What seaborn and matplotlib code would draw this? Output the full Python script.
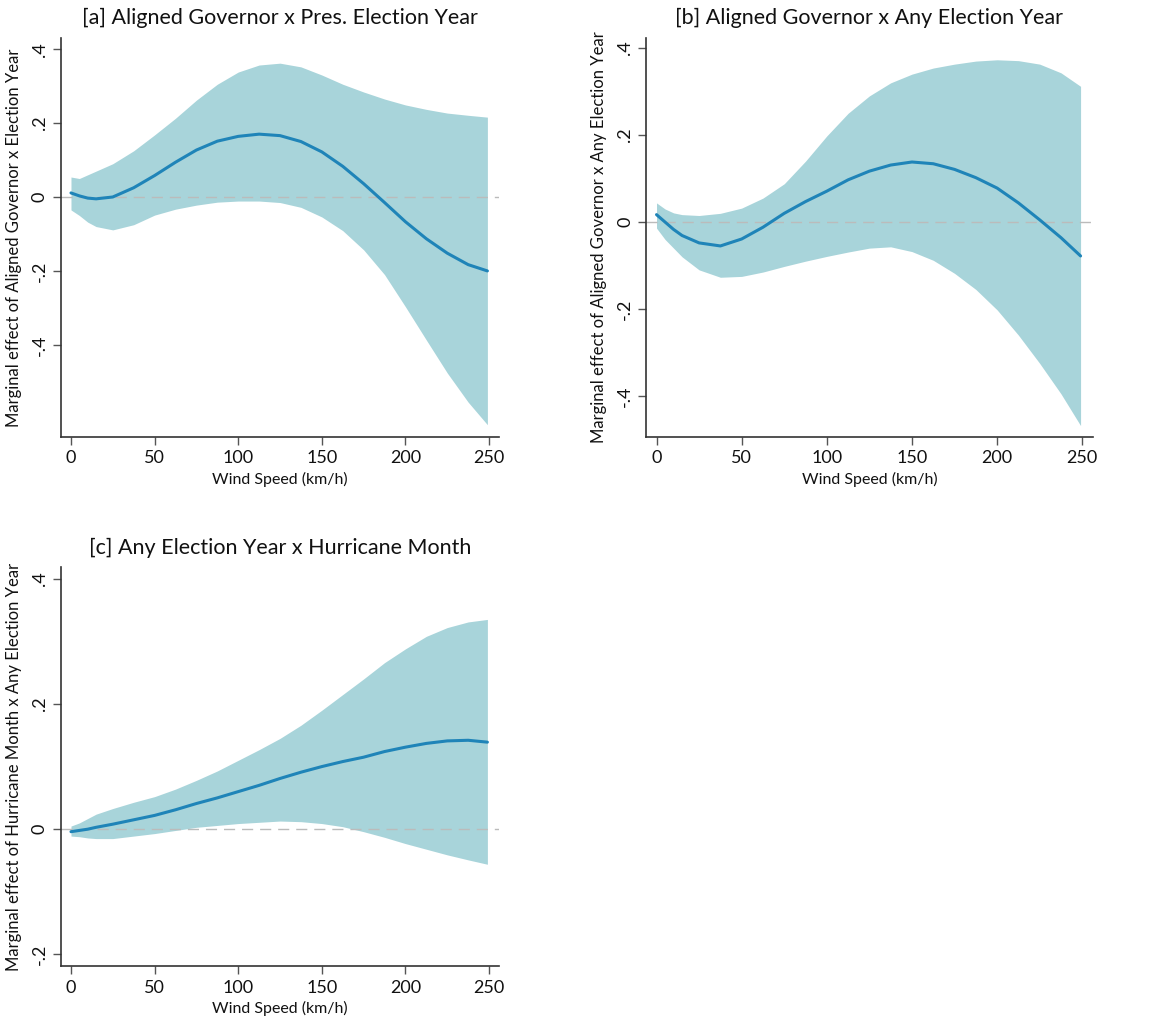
import numpy as np
import pandas as pd
import matplotlib
matplotlib.use('Agg')
import matplotlib.pyplot as plt
import seaborn as sns

sns.set_style('white')
plt.rcParams['font.family'] = ['Lato', 'DejaVu Sans']
plt.rcParams['text.color'] = '#111111'
plt.rcParams['axes.labelcolor'] = '#111111'
plt.rcParams['xtick.color'] = '#111111'
plt.rcParams['ytick.color'] = '#111111'

# Wind speed grid (km/h)
wind = [0, 5, 10, 15, 25, 37.5, 50, 62.5, 75, 87.5, 100, 112.5, 125, 137.5,
        150, 162.5, 175, 187.5, 200, 212.5, 225, 237.5, 249]

# [a] Aligned Governor x Pres. Election Year
a_est = [0.011, 0.003, -0.003, -0.005, 0.0, 0.025, 0.058, 0.094, 0.127, 0.151,
         0.164, 0.170, 0.166, 0.150, 0.122, 0.083, 0.036, -0.015, -0.067,
         -0.113, -0.152, -0.183, -0.200]
a_hi = [0.054, 0.050, 0.060, 0.070, 0.090, 0.125, 0.168, 0.213, 0.262, 0.305,
        0.338, 0.357, 0.362, 0.352, 0.330, 0.305, 0.284, 0.265, 0.249, 0.237,
        0.227, 0.221, 0.216]
a_lo = [-0.035, -0.050, -0.068, -0.080, -0.089, -0.075, -0.049, -0.033, -0.022,
        -0.014, -0.011, -0.011, -0.015, -0.028, -0.054, -0.091, -0.143, -0.210,
        -0.297, -0.387, -0.476, -0.555, -0.616]

# [b] Aligned Governor x Any Election Year
b_est = [0.017, 0.000, -0.017, -0.031, -0.048, -0.055, -0.039, -0.012, 0.020,
         0.047, 0.071, 0.097, 0.117, 0.131, 0.138, 0.134, 0.121, 0.102, 0.078,
         0.044, 0.005, -0.036, -0.078]
b_hi = [0.044, 0.030, 0.021, 0.017, 0.015, 0.020, 0.032, 0.055, 0.088, 0.140,
        0.198, 0.250, 0.290, 0.320, 0.340, 0.354, 0.363, 0.370, 0.373, 0.371,
        0.363, 0.343, 0.312]
b_lo = [-0.014, -0.040, -0.060, -0.080, -0.110, -0.127, -0.125, -0.115, -0.102,
        -0.090, -0.079, -0.069, -0.060, -0.057, -0.068, -0.088, -0.118, -0.155,
        -0.202, -0.260, -0.325, -0.395, -0.468]

# [c] Any Election Year x Hurricane Month
c_est = [-0.004, -0.002, 0.000, 0.003, 0.008, 0.015, 0.022, 0.031, 0.041, 0.050,
         0.060, 0.070, 0.081, 0.091, 0.100, 0.108, 0.115, 0.124, 0.131, 0.137,
         0.141, 0.142, 0.139]
c_hi = [0.005, 0.010, 0.017, 0.024, 0.033, 0.043, 0.052, 0.064, 0.078, 0.093,
        0.110, 0.127, 0.145, 0.166, 0.190, 0.215, 0.240, 0.266, 0.288, 0.308,
        0.322, 0.331, 0.335]
c_lo = [-0.011, -0.012, -0.014, -0.015, -0.015, -0.011, -0.007, -0.002, 0.003,
        0.006, 0.009, 0.011, 0.013, 0.012, 0.009, 0.004, -0.004, -0.013, -0.023,
        -0.032, -0.041, -0.049, -0.056]

titles = ['[a] Aligned Governor x Pres. Election Year',
          '[b] Aligned Governor x Any Election Year',
          '[c] Any Election Year x Hurricane Month']
ylabels = ['Marginal effect of Aligned Governor x Election Year',
           'Marginal effect of Aligned Governor x Any Election Year',
           'Marginal effect of Hurricane Month x Any Election Year']
yticks = [[0.4, 0.2, 0, -0.2, -0.4], [0.4, 0.2, 0, -0.2, -0.4], [0.4, 0.2, 0, -0.2]]
yticklabels = [['.4', '.2', '0', '-.2', '-.4'], ['.4', '.2', '0', '-.2', '-.4'],
               ['.4', '.2', '0', '-.2']]
ylims = [(-0.649, 0.43), (-0.494, 0.423), (-0.219, 0.418)]
series = [(a_est, a_lo, a_hi), (b_est, b_lo, b_hi), (c_est, c_lo, c_hi)]

band_col = '#a8d4da'
line_col = '#1f84b8'

fig = plt.figure(figsize=(11.5, 10.28), dpi=100)
rects = [[0.053, 0.575, 0.381, 0.388],
         [0.562, 0.575, 0.388, 0.388],
         [0.053, 0.060, 0.381, 0.388]]

for i in range(3):
    ax = fig.add_axes(rects[i])
    est, lo, hi = series[i]
    df = pd.DataFrame({'wind': wind, 'est': est, 'lo': lo, 'hi': hi})
    ax.fill_between(df['wind'], df['lo'], df['hi'], color=band_col, lw=0, zorder=1)
    ax.axhline(0, color='#bbbbbb', lw=1, ls=(0, (8, 5)), zorder=2)
    sns.lineplot(data=df, x='wind', y='est', ax=ax, color=line_col, lw=2.2, zorder=3)
    ax.set_xlim(-6, 256)
    ax.set_ylim(*ylims[i])
    ax.set_xticks([0, 50, 100, 150, 200, 250])
    ax.set_yticks(yticks[i])
    ax.set_yticklabels(yticklabels[i], rotation=90, va='center')
    ax.set_title(titles[i], fontsize=15.5, pad=10)
    ax.set_xlabel('Wind Speed (km/h)', fontsize=11.5, labelpad=4)
    ax.set_ylabel(ylabels[i], fontsize=12, labelpad=7)
    ax.tick_params(axis='both', labelsize=13, length=6, width=1, color='#555555',
                   direction='out', left=True, bottom=True)
    sns.despine(ax=ax)
    for s in ['left', 'bottom']:
        ax.spines[s].set_color('#333333')
        ax.spines[s].set_linewidth(1.2)

plt.savefig('out.png', dpi=100)
plt.close()
